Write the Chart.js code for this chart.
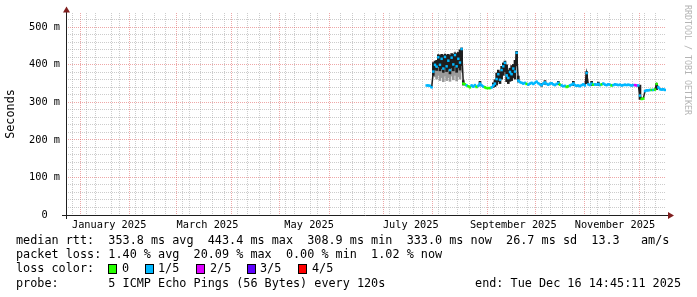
<!DOCTYPE html>
<html><head><meta charset="utf-8">
<script src="https://cdn.jsdelivr.net/npm/chart.js@4.4.1/dist/chart.umd.min.js"></script>
<style>html,body{margin:0;padding:0;background:#fff;}canvas{display:block;}</style>
</head><body>
<canvas id="c" width="697" height="297"></canvas>
<script>
// ---- data (x = days since 1 Jan 2025) ----
const days = [206,207,208,209,210,211,212,213,214,215,216,217,218,219,220,221,222,223,224,225,226,227,228,229,230,231,232,233,234,235,236,237,238,239,240,241,242,243,244,245,246,247,248,249,250,251,252,253,254,255,256,257,258,259,260,261,262,263,264,265,266,267,268,269,270,271,272,273,274,275,276,277,278,279,280,281,282,283,284,285,286,287,288,289,290,291,292,293,294,295,296,297,298,299,300,301,302,303,304,305,306,307,308,309,310,311,312,313,314,315,316,317,318,319,320,321,322,323,324,325,326,327,328,329,330,331,332,333,334,335,336,337,338,339,340,341,342,343,344,345,346,347,348,349];
const medianMs = [345,345,344,340,382,400,395,420,400,416,390,421,396,411,386,419,401,426,396,416,406,442,350,348,345,343,340,345,342,346,341,344,350,345,342,340,338,338,338,340,345,350,362,375,360,386,396,405,372,365,381,375,390,382,432,358,354,352,350,352,349,347,350,352,349,352,355,351,348,346,350,353,349,347,350,351,348,346,349,352,347,345,343,344,341,343,345,347,350,346,344,345,343,346,348,345,378,348,346,350,347,348,347,349,346,348,350,347,346,348,347,345,346,348,347,346,347,345,346,347,346,347,346,345,346,346,345,345,318,309,310,330,332,332,333,333,333,334,349,340,335,334,335,333];
// loss level per sample: 0 = 0/5, 1 = 1/5, 2 = 2/5 ...
const lossLevel = [1,1,1,1,1,1,1,1,1,1,1,1,1,1,1,1,1,1,1,1,1,1,0,0,1,0,0,1,1,1,0,1,1,1,1,0,0,0,0,1,1,1,1,1,1,1,1,1,1,1,1,1,1,1,1,1,1,1,1,1,0,1,1,1,1,1,1,1,1,1,1,1,1,1,1,1,1,1,1,1,0,1,1,1,0,0,1,1,1,1,1,1,1,1,1,1,1,1,1,1,0,1,1,1,1,0,1,1,1,1,1,0,1,1,1,1,1,1,1,1,1,1,1,1,1,2,2,1,1,0,0,1,1,1,1,0,1,0,0,1,1,1,1,1];
const smokeDays = [210,211,212,213,214,215,216,217,218,219,220,221,222,223,224,225,226,227,228,238,246,247,248,249,250,251,252,253,254,255,256,257,258,259,260,261,275,277,285,294,302,305,309,334,344];
const smokeLo   = [372,388,385,395,384,390,380,392,382,388,376,392,384,396,380,392,386,398,346,344,340,342,346,355,350,362,372,382,355,350,356,358,366,362,398,354,343,348,347,345,350,345,345,308,334];
const smokeHi   = [406,410,412,427,425,428,425,428,426,428,425,430,428,432,430,433,440,445,358,356,352,360,378,386,381,396,405,410,400,386,391,398,401,412,436,370,350,358,356,356,382,356,354,346,350];
const lightSmokeDays = [211,212,213,214,215,216,217,218,219,220,221,222,223,224,225,226,227];
const lightSmokeLo   = [368,362,372,358,366,355,370,358,366,356,370,360,372,357,368,362,380];
const lightSmokeHi   = [390,387,397,386,392,382,394,384,390,378,394,386,398,382,394,388,400];
const lossColors = ['#26ff00','#00b8ff','#dd00ff','#5e00ff','#ff0000'];
const lossLabels = ['0','1/5','2/5','3/5','4/5'];
const monthStartDays = [0,31,59,90,120,151,181,212,243,273,304,334];
const weekStartDays = [-10,-3,4,11,18,25,32,39,46,53,60,67,74,81,88,95,102,109,116,123,130,137,144,158,165,172,179,186,193,200,207,214,221,228,235,242,249,256,263,270,277,284,291,298,305,312,319,326,333,340,347];
const monthLabelDays = [15.5,74.5,135.5,196.5,258,319];
const monthLabels = ['January 2025','March 2025','May 2025','July 2025','September 2025','November 2025'];
const yGridValues = [0,20,40,60,80,100,120,140,160,180,200,220,240,260,280,300,320,340,360,380,400,420,440,460,480,500,520];
const xMin = -10.385, xMax = 349.615, yMax = 538;
const legendLines = [
  'median rtt:  353.8 ms avg  443.4 ms max  308.9 ms min  333.0 ms now  26.7 ms sd  13.3   am/s',
  'packet loss: 1.40 % avg  20.09 % max  0.00 % min  1.02 % now',
  'loss color:',
  'probe:       5 ICMP Echo Pings (56 Bytes) every 120s'
];
const endText = 'end: Tue Dec 16 14:45:11 2025';

// ---- styles ----
const MONO = 'DejaVu Sans Mono';
const minorGrid = 'rgba(143,143,143,0.45)';
const majorGrid = 'rgba(222,79,79,0.5)';
const smokeDark = '#1e1e1e';
const gridDash = [1, 1];

function xTicks() {
  const t = [];
  weekStartDays.forEach(d => t.push({value: d, kind: 'week'}));
  monthStartDays.forEach(d => t.push({value: d, kind: 'month'}));
  monthLabelDays.forEach((d, i) => t.push({value: d, kind: 'label', text: monthLabels[i]}));
  t.sort((a, b) => a.value - b.value);
  return t;
}

const decor = {
  id: 'decor',
  afterDraw(chart) {
    const ctx = chart.ctx, a = chart.chartArea;
    ctx.save();
    ctx.strokeStyle = '#1f1f1f'; ctx.lineWidth = 1; ctx.setLineDash([]);
    ctx.beginPath(); ctx.moveTo(a.left - 4, a.bottom + 0.5); ctx.lineTo(a.right + 3, a.bottom + 0.5); ctx.stroke();
    ctx.beginPath(); ctx.moveTo(a.left + 0.5, a.bottom + 4); ctx.lineTo(a.left + 0.5, a.top - 2); ctx.stroke();
    ctx.fillStyle = '#801f1f';
    ctx.beginPath(); ctx.moveTo(a.right + 2, a.bottom - 3); ctx.lineTo(a.right + 2, a.bottom + 4); ctx.lineTo(a.right + 8, a.bottom + 0.5); ctx.closePath(); ctx.fill();
    ctx.beginPath(); ctx.moveTo(a.left - 3, a.top - 0.5); ctx.lineTo(a.left + 4, a.top - 0.5); ctx.lineTo(a.left + 0.5, a.top - 6.5); ctx.closePath(); ctx.fill();
    ctx.fillStyle = '#000';
    ctx.font = '11.8px "' + MONO + '"';
    ctx.textAlign = 'center'; ctx.textBaseline = 'middle';
    ctx.save(); ctx.translate(11, (a.top + a.bottom) / 2); ctx.rotate(-Math.PI / 2); ctx.fillText('Seconds', 0, 0); ctx.restore();
    ctx.save(); ctx.fillStyle = '#b4b4b4'; ctx.font = '8.3px "' + MONO + '"'; ctx.textAlign = 'left';
    ctx.translate(687, 5); ctx.rotate(Math.PI / 2); ctx.fillText('RRDTOOL / TOBI OETIKER', 0, 0); ctx.restore();
    ctx.fillStyle = '#000'; ctx.textAlign = 'left'; ctx.textBaseline = 'middle';
    ctx.font = '11.8px "' + MONO + '"';
    const ys = [241, 255, 269, 283.5];
    legendLines.forEach((s, i) => ctx.fillText(s, 16, ys[i]));
    ctx.textAlign = 'right'; ctx.fillText(endText, 681, ys[3]); ctx.textAlign = 'left';
    const boxX = [108, 145, 196, 247, 298], labX = [122, 158, 210, 260, 312];
    lossLabels.forEach((l, i) => {
      ctx.fillStyle = lossColors[i]; ctx.fillRect(boxX[i], 264, 9, 10);
      ctx.strokeStyle = '#000'; ctx.strokeRect(boxX[i] + 0.5, 264.5, 8, 9);
      ctx.fillStyle = '#000'; ctx.fillText(l, labX[i], ys[2]);
    });
    ctx.restore();
  }
};

new Chart(document.getElementById('c'), {
  data: {
    datasets: [
      { type: 'line', label: 'median', order: 0,
        data: days.map((d, i) => ({x: d, y: medianMs[i]})),
        borderWidth: 2, tension: 0, borderColor: lossColors[1],
        pointStyle: 'line', pointRadius: 1.2, pointBorderWidth: 2.5, pointHoverRadius: 1.2,
        pointBorderColor: days.map((d, i) => lossColors[lossLevel[i]]),
        segment: { borderColor: c => Math.abs(c.p1.parsed.y - c.p0.parsed.y) > 7 ? smokeDark : lossColors[lossLevel[c.p1DataIndex]],
                   borderWidth: c => Math.abs(c.p1.parsed.y - c.p0.parsed.y) > 7 ? 1.5 : 2 } },
      { type: 'bar', label: 'smoke', order: 1, grouped: false,
        data: smokeDays.map((d, i) => ({x: d, y: [smokeLo[i], smokeHi[i]]})),
        backgroundColor: smokeDark, borderWidth: 0, barThickness: 2 },
      { type: 'bar', label: 'smoke2', order: 2, grouped: false,
        data: lightSmokeDays.map((d, i) => ({x: d, y: [lightSmokeLo[i], lightSmokeHi[i]]})),
        backgroundColor: '#9a9a9a', borderWidth: 0, barThickness: 2 }
    ]
  },
  options: {
    responsive: false, animation: false, devicePixelRatio: 1,
    layout: { padding: { left: 0, top: 13, right: 31, bottom: 0 } },
    plugins: { legend: { display: false }, tooltip: { enabled: false } },
    scales: {
      x: { type: 'linear', min: xMin, max: xMax, offset: false,
        afterBuildTicks: s => { s.ticks = xTicks(); },
        afterFit: s => { s.height = 82; },
        ticks: { autoSkip: false, maxRotation: 0, minRotation: 0, padding: 4, color: '#000',
          font: { family: MONO, size: 10.3 },
          callback: (v, i, t) => (t[i] && t[i].text) || '' },
        grid: { drawTicks: false, lineWidth: 1, borderDash: gridDash,
          color: c => !c.tick ? minorGrid : (c.tick.kind === 'month' ? majorGrid : (c.tick.kind === 'week' ? minorGrid : 'rgba(0,0,0,0)')) },
        border: { display: false, dash: gridDash } },
      y: { type: 'linear', min: 0, max: yMax,
        afterBuildTicks: s => { s.ticks = yGridValues.map(v => ({value: v})); },
        afterFit: s => { s.width = 66; },
        ticks: { autoSkip: false, padding: 6, color: '#000', font: { family: MONO, size: 10.3 },
          callback: v => v % 100 === 0 ? (v === 0 ? '0  ' : v + ' m') : '' },
        grid: { drawTicks: false, lineWidth: 1, borderDash: gridDash,
          color: c => (c.tick && c.tick.value % 100 === 0) ? majorGrid : minorGrid },
        border: { display: false, dash: gridDash } }
    }
  },
  plugins: [decor]
});
</script>
</body></html>
